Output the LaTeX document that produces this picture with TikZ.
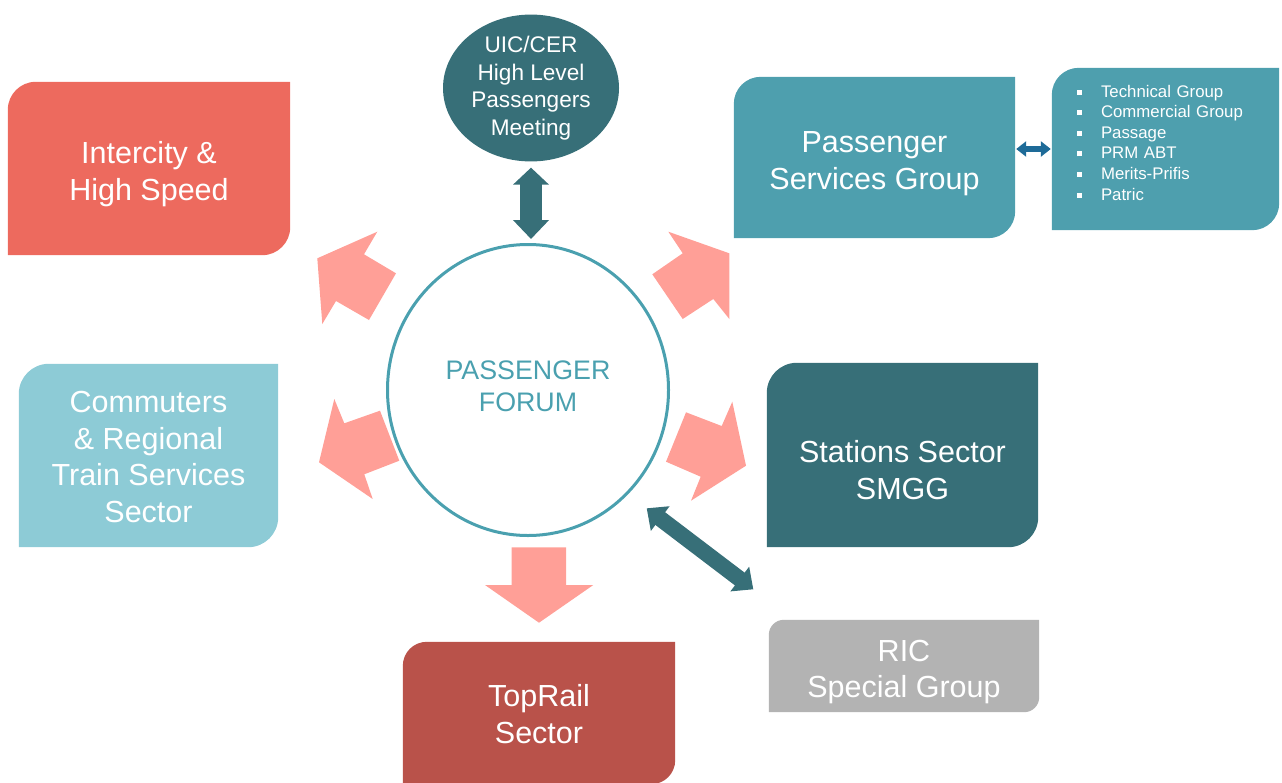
\documentclass[tikz,border=0pt]{standalone}
\usepackage{fontspec}
\setmainfont{Liberation Sans}
\usetikzlibrary{arrows.meta, shapes.geometric, backgrounds}

\definecolor{ihsred}{HTML}{ED6A5E}
\definecolor{psgteal}{HTML}{4E9FAE}
\definecolor{comblue}{HTML}{8DCBD6}
\definecolor{darkteal}{HTML}{376F78}
\definecolor{toprailred}{HTML}{B9524A}
\definecolor{ricgrey}{HTML}{B3B3B3}
\definecolor{forumteal}{HTML}{4AA0AF}
\definecolor{arrowpink}{HTML}{FF9F97}
\definecolor{linkblue}{HTML}{1E6B98}

\newcommand\sqbullet{\makebox[24.5pt][l]{\rule[2.5pt]{5pt}{5pt}}}
\newcommand\topstrut[1][33pt]{\rule{0pt}{#1}}
\newcommand\botstrut{\rule[-4pt]{0pt}{4pt}}

\tikzset{
	sector/.style={rectangle, inner sep=0pt, text=white, align=center, font=\fontsize{30.5}{36.5}\selectfont},
	pinkarrow/.style={fill=arrowpink},
	tealarrow/.style={draw=darkteal, line width=#1},
	linkarrow/.style={draw=linkblue, line width=6pt, {Triangle[width=15pt,length=10pt]}-{Triangle[width=15pt,length=10pt]}, shorten <=1pt, shorten >=1pt}
}

\begin{document}
\begin{tikzpicture}[x=1pt, y=-1pt]
	\useasboundingbox (0,0) rectangle (1282,782);
	
	% sector boxes
	\node[sector, minimum width=282pt, minimum height=173pt] (ihs) at (149,168.5) {\topstrut Intercity \&\\High Speed\botstrut};
	\node[sector, minimum width=281pt, minimum height=161pt] (psg) at (874.5,157.5) {\topstrut Passenger\\Services Group\botstrut};
	\node[rectangle, inner sep=0pt, text=white, minimum width=227pt, minimum height=162pt, text width=178pt, align=left, font=\fontsize{16.8}{20.6}\selectfont] (groups) at (1165.5,149)
		{\sqbullet Technical Group\\\sqbullet Commercial Group\\\sqbullet Passage\\\sqbullet PRM ABT\\\sqbullet Merits-Prifis\\\sqbullet Patric\rule[-13pt]{0pt}{13pt}};
	\node[sector, minimum width=259pt, minimum height=183pt] (com) at (148.5,455.5) {\topstrut[28pt]Commuters\\\& Regional\\Train Services\\Sector\botstrut};
	\node[sector, minimum width=271pt, minimum height=184pt] (sts) at (902.5,455) {\topstrut[52pt]Stations Sector\\SMGG};
	\node[sector, minimum width=272pt, minimum height=142pt] (top) at (539,713) {\topstrut[28pt]TopRail\\Sector\botstrut};
	\node[sector, minimum width=270pt, minimum height=92pt] (ric) at (904,666) {\topstrut RIC\\Special Group\botstrut};
	
	\node[ellipse, fill=darkteal, inner sep=0pt, minimum width=176pt, minimum height=139pt, text=white, align=center, font=\fontsize{22.6}{27.6}\selectfont] (uic) at (531,88) {UIC/CER\\High Level\\Passengers\\Meeting\rule[-3pt]{0pt}{3pt}};
	\node[ellipse, draw=forumteal, line width=3pt, inner sep=0pt, minimum width=281pt, minimum height=291pt, text=forumteal, align=center, font=\fontsize{26.8}{32}\selectfont] (forum) at (528,390) {PASSENGER\\FORUM\rule[-8pt]{0pt}{8pt}};
	
	% fills with two round corners
	\begin{scope}[on background layer]
		\foreach \n/\c/\r in {ihs/ihsred/28, psg/psgteal/27, groups/psgteal/27, com/comblue/30, sts/darkteal/30, top/toprailred/24, ric/ricgrey/15} {
			\fill[\c] ([xshift=\r pt]\n.north west) -- (\n.north east) -- ([yshift=\r pt]\n.south east)
				arc[start angle=0, end angle=-90, radius=\r pt] -- (\n.south west) -- ([yshift=-\r pt]\n.north west)
				arc[start angle=180, end angle=90, radius=\r pt] -- cycle;
		}
	\end{scope}
	
	% pink block arrows
	\fill[pinkarrow] (377.3,231.7) -- (317.3,258.3) -- (322.3,324) -- (336,301) -- (369,320) -- (396,273.3) -- (364,254.3) -- cycle;
	\fill[pinkarrow] (668.3,231.7) -- (729.3,253.3) -- (729.3,319) -- (713.3,299) -- (682.7,319) -- (652.3,274.3) -- (682.7,253.3) -- cycle;
	\fill[pinkarrow] (334.3,399) -- (344.3,423.3) -- (380,410.7) -- (399.3,460.7) -- (364.3,474.3) -- (372.7,499) -- (319,462.3) -- cycle;
	\fill[pinkarrow] (732.3,401.7) -- (746,465.7) -- (691,500.7) -- (700.7,476.7) -- (666,461.7) -- (686,412.3) -- (721.7,426) -- cycle;
	\fill[pinkarrow] (511.7,547.3) -- (566,547.3) -- (566,585) -- (593.3,585) -- (539,622.7) -- (485,585) -- (511.7,585) -- cycle;
	
	% links
	\draw[tealarrow=22pt, {Triangle[width=35pt,length=17pt]}-{Triangle[width=35pt,length=19pt]}, shorten <=6pt, shorten >=4pt] (uic.south) -- (uic.south |- forum.north);
	\coordinate (fdiag) at (646.7,508.3);
	\coordinate (rdiag) at (753.3,589.3);
	\draw[tealarrow=16pt, {Triangle[width=30pt,length=17pt]}-{Triangle[width=30pt,length=17pt]}] (fdiag) -- (rdiag);
	\draw[linkarrow] (psg.east |- groups.west) -- (groups.west);
\end{tikzpicture}
\end{document}
